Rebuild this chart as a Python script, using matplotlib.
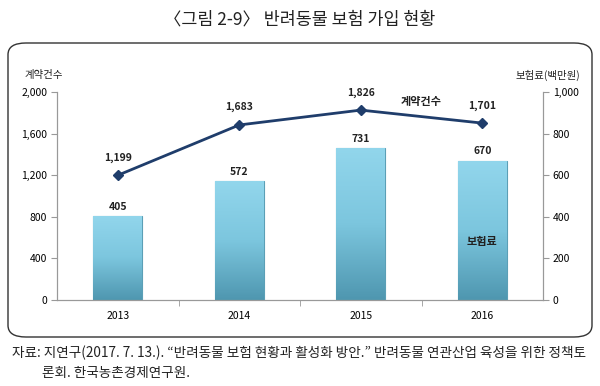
import numpy as np
import matplotlib
matplotlib.use('Agg')
import matplotlib.pyplot as plt
from matplotlib.patches import FancyBboxPatch

plt.rcParams['font.family'] = ['Noto Sans CJK KR', 'DejaVu Sans']

years = ['2013', '2014', '2015', '2016']
contracts = [1199, 1683, 1826, 1701]   # 계약건수 (left axis)
premium = [405, 572, 731, 670]         # 보험료 (백만원, right axis)

left_ticks = [0, 400, 800, 1200, 1600, 2000]
right_ticks = [0, 200, 400, 600, 800, 1000]

fig = plt.figure(figsize=(6, 3.86), dpi=100)

# rounded frame around the chart
frame = FancyBboxPatch((8 / 600, 1 - 337 / 386), 584 / 600, 294 / 386,
                       boxstyle='round,pad=0,rounding_size=0.03',
                       transform=fig.transFigure, facecolor='none',
                       edgecolor='#333333', lw=1.0, zorder=-1)
fig.patches.append(frame)

fig.text(0.5, 1 - 20 / 386, '〈그림 2-9〉 반려동물 보험 가입 현황', ha='center', va='center',
         fontsize=12.5, color='#222222')

ax1 = fig.add_axes([57 / 600, 1 - 300 / 386, 486 / 600, 208 / 386])
ax2 = ax1.twinx()
ax1.set_zorder(ax2.get_zorder() + 1)
ax1.patch.set_visible(False)

x = np.arange(len(years))
bw = 0.4

# bars with a soft gradient
grad = np.linspace(0, 1, 100).reshape(-1, 1)
cmap = matplotlib.colors.LinearSegmentedColormap.from_list('b', ['#4f97b0', '#7cc6de', '#92d6ec'])
bars = ax2.bar(x, premium, width=bw, color='#7cc3da', edgecolor='#5b9fb6', lw=0.8)
for b in bars:
    bx, by = b.get_x(), b.get_y()
    im = ax2.imshow(grad, cmap=cmap, aspect='auto', origin='lower',
                    extent=[bx, bx + b.get_width(), by, by + b.get_height()], zorder=b.get_zorder())
    im.set_clip_path(b)
for xi, v in zip(x, premium):
    ax2.text(xi, v + 20, f'{v:,}', ha='center', va='bottom', fontsize=7.5,
             fontweight='bold', color='#222222')
ax2.text(x[-1], 280, '보험료', ha='center', va='center', fontsize=8, fontweight='bold', color='#222222')

ax1.plot(x, contracts, color='#1f3d6b', lw=2, marker='D', markersize=5, zorder=5)
for xi, v in zip(x, contracts):
    ax1.text(xi, v + 120, f'{v:,}', ha='center', va='bottom', fontsize=7.5,
             fontweight='bold', color='#222222')
ax1.text(2.5, 1910, '계약건수', ha='center', va='center', fontsize=8, fontweight='bold', color='#222222')

ax1.set_xlim(-0.5, 3.5)
ax1.set_ylim(0, 2000)
ax2.set_ylim(0, 1000)
ax1.set_yticks(left_ticks)
ax1.set_yticklabels([f'{t:,}' for t in left_ticks])
ax2.set_yticks(right_ticks)
ax2.set_yticklabels([f'{t:,}' for t in right_ticks])
ax1.set_xticks(x)
ax1.set_xticklabels(years)
ax1.set_xticks([0.5, 1.5, 2.5], minor=True)
ax1.tick_params(axis='x', which='major', length=0, labelsize=7.5, pad=8)
ax1.tick_params(axis='x', which='minor', length=4, color='#999999')
ax1.tick_params(axis='y', length=4, color='#999999', labelsize=7.5, pad=3)
ax2.tick_params(axis='y', length=4, color='#999999', labelsize=7.5, pad=3)

for ax in (ax1, ax2):
    ax.spines['top'].set_visible(False)
    for s in ('left', 'right', 'bottom'):
        ax.spines[s].set_color('#999999')
        ax.spines[s].set_linewidth(0.8)

fig.text(25 / 600, 1 - 75 / 386, '계약건수', ha='left', va='center', fontsize=7.5, color='#222222')
fig.text(580 / 600, 1 - 75 / 386, '보험료(백만원)', ha='right', va='center', fontsize=7.5, color='#222222')

fig.text(12 / 600, 1 - 353 / 386,
         '자료: 지연구(2017. 7. 13.). “반려동물 보험 현황과 활성화 방안.” 반려동물 연관산업 육성을 위한 정책토',
         ha='left', va='center', fontsize=9.8, color='#222222')
fig.text(42 / 600, 1 - 373 / 386, '론회. 한국농촌경제연구원.', ha='left', va='center',
         fontsize=9.8, color='#222222')

fig.savefig('out.png', dpi=100)
